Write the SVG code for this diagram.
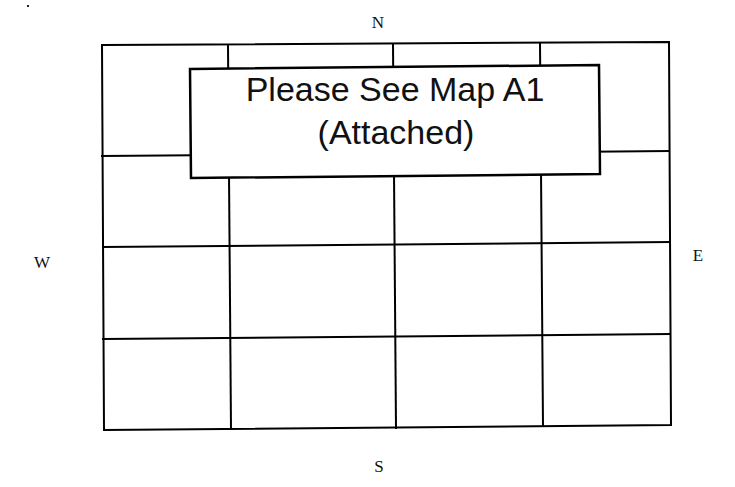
<svg xmlns="http://www.w3.org/2000/svg" width="735" height="487" viewBox="0 0 735 487">
  <style>
    .grid { stroke: #000; stroke-width: 2; fill: none; stroke-linecap: square; }
    .box { stroke: #000; stroke-width: 2.5; fill: #fff; }
    .note { font-family: "Liberation Sans", Arial, sans-serif; font-size: 34px; fill: #111; text-anchor: middle; }
    .compass { font-family: "Liberation Serif", "Times New Roman", serif; font-size: 17px; fill: #111; text-anchor: middle; }
  </style>
  <rect width="735" height="487" fill="#fff"/>
  <rect x="27" y="5" width="2" height="2" fill="#222"/>
  <g id="connectors">
    <polygon class="grid" points="102,45 669,42 671,425 104,430"/>
    <line class="grid" x1="102" y1="156" x2="669" y2="151"/>
    <line class="grid" x1="103" y1="247" x2="670" y2="242"/>
    <line class="grid" x1="103" y1="339" x2="670" y2="334"/>
    <line class="grid" x1="228" y1="45" x2="231" y2="429"/>
    <line class="grid" x1="393" y1="44" x2="396" y2="428"/>
    <line class="grid" x1="540" y1="43" x2="543" y2="426"/>
  </g>
  <g id="note-box">
    <polygon class="box" points="190,69 599,65 600,174 191,178"/>
    <text class="note" x="395" y="101">Please See Map A1</text>
    <text class="note" x="396" y="144">(Attached)</text>
  </g>
  <g id="north"><text class="compass" x="378" y="28">N</text></g>
  <g id="west"><text class="compass" x="42" y="268">W</text></g>
  <g id="east"><text class="compass" x="698" y="261">E</text></g>
  <g id="south"><text class="compass" x="379" y="472">S</text></g>
</svg>
